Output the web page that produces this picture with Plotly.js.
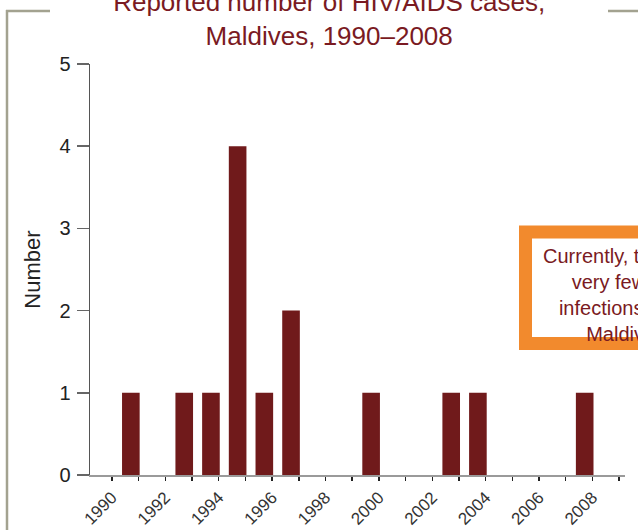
<!DOCTYPE html>
<html>
<head>
<meta charset="utf-8">
<script src="https://cdn.plot.ly/plotly-3.0.1.min.js"></script>
<style>html,body{margin:0;padding:0;background:#fff;}#chart{width:638px;height:530px;}</style>
</head>
<body>
<div id="chart"></div>
<script>
// Data
const years = [1991, 1993, 1994, 1995, 1996, 1997, 2000, 2003, 2004, 2008];
const cases = [1, 1, 1, 4, 1, 2, 1, 1, 1, 1];
const yTickVals = [0, 1, 2, 3, 4, 5];
const titleText = 'Reported number of HIV/AIDS cases,<br>Maldives, 1990–2008';
const noteText = 'Currently, there are<br>very few HIV<br>infections in the<br>Maldives.';

const W = 638, H = 530;
const M = {l: 90, r: 13, t: 64, b: 55};
const pw = W - M.l - M.r, ph = H - M.t - M.b;
const px = x => (x - M.l) / pw;          // pixel -> paper x
const py = y => (H - M.b - y) / ph;      // pixel -> paper y

const frameColor = '#a3a290';
const red = '#7a1a22';

const trace = {
  type: 'bar',
  x: years,
  y: cases,
  width: 0.66,
  offset: -0.62,
  marker: {color: '#701a1b', line: {width: 0}},
  hoverinfo: 'x+y'
};

const layout = {
  width: W, height: H,
  margin: M,
  paper_bgcolor: '#fff',
  plot_bgcolor: '#fff',
  showlegend: false,
  font: {family: '"Liberation Sans", Arial, sans-serif', color: '#222'},
  title: {
    text: titleText,
    font: {size: 26, color: red, family: '"Liberation Sans", Arial, sans-serif'},
    xref: 'container', x: 0.516, xanchor: 'center',
    yref: 'container', y: 0.979, yanchor: 'middle'
  },
  xaxis: {
    range: [1989.18, 2009.22],
    tickmode: 'linear', tick0: 1990, dtick: 2,
    tickangle: -45,
    ticks: 'outside', ticklen: 4, tickwidth: 1.5, tickcolor: '#222',
    minor: {dtick: 1, tick0: 1990, ticks: 'outside', ticklen: 4, tickwidth: 1.5, tickcolor: '#222'},
    showline: true, linecolor: '#9a9a9a', linewidth: 2,
    showgrid: false, zeroline: false,
    tickfont: {size: 17, color: '#333'}
  },
  yaxis: {
    range: [0, 5],
    tickvals: yTickVals,
    ticks: 'outside', ticklen: 12, tickwidth: 1.5, tickcolor: '#666',
    ticklabelstandoff: 2,
    showline: true, linecolor: '#555', linewidth: 1.5,
    showgrid: false, zeroline: false,
    tickfont: {size: 20, color: '#222'},
    title: {text: 'Number', font: {size: 22, color: '#222'}, standoff: 12}
  },
  shapes: [
    // outer grey frame (cropped)
    {type: 'line', xref: 'paper', yref: 'paper', x0: px(7), x1: px(7), y0: py(10), y1: py(540), line: {color: frameColor, width: 2.5}},
    {type: 'line', xref: 'paper', yref: 'paper', x0: px(6), x1: px(50), y0: py(11), y1: py(11), line: {color: frameColor, width: 2.5}},
    {type: 'line', xref: 'paper', yref: 'paper', x0: px(608), x1: px(650), y0: py(11), y1: py(11), line: {color: frameColor, width: 2.5}},
    // orange note box
    {type: 'rect', xref: 'paper', yref: 'paper', x0: px(525.5), x1: px(740), y0: py(232), y1: py(343.5), fillcolor: '#fff', line: {color: '#f28a2d', width: 13}}
  ],
  annotations: [
    {xref: 'paper', yref: 'paper', x: px(628), y: py(295), xanchor: 'center', yanchor: 'middle',
     text: noteText, showarrow: false, align: 'center',
     font: {size: 20, color: red, family: '"Liberation Sans", Arial, sans-serif'}}
  ]
};

Plotly.newPlot('chart', [trace], layout, {displayModeBar: false, staticPlot: true});
</script>
</body>
</html>
